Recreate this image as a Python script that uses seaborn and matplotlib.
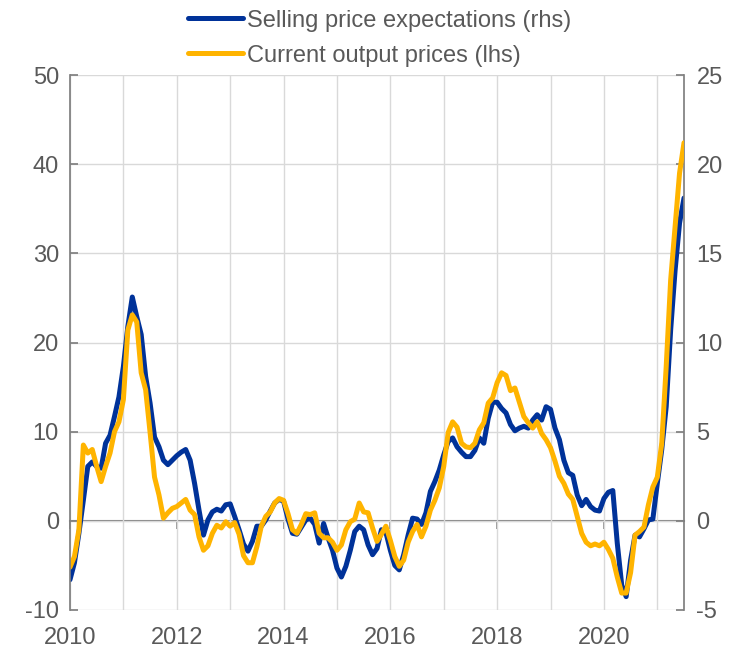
import numpy as np
import pandas as pd
import matplotlib.pyplot as plt
import seaborn as sns

# monthly observations, Jan 2010 - Jul 2021
months = pd.date_range("2010-01-01", "2021-07-01", freq="MS")

# selling price expectations, right hand scale
selling_price_expectations = [
    -3.3, -2.35, -0.7, 1.15, 3.05, 3.3, 3.05, 2.95, 4.35, 4.8,
    5.85, 6.95, 8.65, 10.9, 12.55, 11.45, 10.45, 8.1, 6.6, 4.7,
    4.15, 3.4, 3.15, 3.4, 3.65, 3.85, 4.0, 3.4, 2.1, 0.6,
    -0.8, 0.05, 0.5, 0.65, 0.55, 0.9, 0.95, 0.25, -0.5, -1.3,
    -1.7, -1.15, -0.3, -0.3, 0.05, 0.55, 1.0, 1.2, 1.1, 0.1,
    -0.7, -0.75, -0.35, 0.05, 0.15, -0.2, -1.25, -0.15, -0.95, -1.65,
    -2.65, -3.15, -2.55, -1.65, -0.6, -0.3, -0.5, -1.35, -1.9, -1.55,
    -0.5, -0.65, -1.65, -2.5, -2.75, -1.9, -0.8, 0.15, 0.1, -0.2,
    0.45, 1.65, 2.2, 2.85, 3.7, 4.45, 4.65, 4.15, 3.85, 3.6,
    3.6, 3.95, 4.65, 4.35, 5.75, 6.65, 6.65, 6.3, 6.05, 5.4,
    5.05, 5.2, 5.3, 5.2, 5.65, 5.95, 5.65, 6.4, 6.25, 5.2,
    4.55, 3.4, 2.7, 2.55, 1.45, 0.85, 1.2, 0.8, 0.6, 0.55,
    1.25, 1.6, 1.7, -1.25, -3.6, -4.25, -2.2, -0.8, -0.9, -0.45,
    0.05, 0.1, 2.1, 4.0, 6.4, 10.7, 14.05, 16.7, 18.1,
]

# current output prices, left hand scale
current_output_prices = [
    -5.2, -4.0, -1.0, 8.5, 7.6, 8.0, 6.1, 4.4, 6.1, 7.6,
    10.0, 11.1, 13.6, 21.4, 23.1, 22.3, 16.6, 14.7, 9.9, 4.9,
    2.9, 0.3, 0.9, 1.4, 1.6, 2.0, 2.4, 1.2, 0.7, -1.8,
    -3.3, -2.8, -1.4, -0.5, -0.8, -0.1, -0.6, -0.2, -1.5, -3.9,
    -4.7, -4.7, -2.9, -0.6, 0.5, 1.0, 2.0, 2.5, 2.3, 0.8,
    -1.0, -1.4, -0.4, 0.8, 0.7, 0.9, -1.4, -1.9, -1.9, -2.4,
    -3.3, -2.7, -1.0, -0.1, 0.2, 2.0, 1.0, 0.9, -0.8, -2.3,
    -1.5, -0.6, -2.2, -4.0, -5.1, -4.4, -2.4, -1.2, -0.4, -1.8,
    -0.6, 1.2, 2.3, 3.7, 6.1, 9.9, 11.1, 10.5, 8.7, 8.3,
    8.2, 8.7, 10.2, 11.0, 13.2, 13.8, 15.5, 16.6, 16.3, 14.6,
    14.9, 13.3, 11.7, 11.0, 10.4, 11.1, 9.8, 9.1, 8.2, 6.7,
    5.0, 4.2, 3.0, 2.4, 0.5, -1.4, -2.4, -2.8, -2.6, -2.8,
    -2.4, -3.2, -4.2, -6.3, -8.1, -8.1, -5.8, -1.6, -1.2, -0.7,
    1.8, 3.8, 4.9, 8.7, 17.3, 27.0, 33.0, 39.0, 42.4,
]

year_ticks = list(range(2010, 2022))
year_labels = [str(y) if y % 2 == 0 else "" for y in year_ticks]
axis_ticks = [2010, 2012, 2014, 2016, 2018, 2020]
lhs_ticks = [-10, 0, 10, 20, 30, 40, 50]
rhs_ticks = [-5, 0, 5, 10, 15, 20, 25]

BLUE = "#003299"
YELLOW = "#FFB400"
GREY = "#808080"
TEXT = "#595959"

df = pd.DataFrame({
    "t": months.year + (months.month - 1) / 12,
    "spe": selling_price_expectations,
    "cop": current_output_prices,
})

sns.set_theme(style="white")
plt.rcParams["font.family"] = ["Liberation Sans", "DejaVu Sans"]
plt.rcParams["axes.unicode_minus"] = False

fig = plt.figure(figsize=(7.34, 6.49), dpi=100)
ax = fig.add_axes([70 / 734, 1 - 610 / 649, 614 / 734, 535 / 649])
ax2 = ax.twinx()
# yellow line above the blue one, grid stays underneath both
ax.set_zorder(ax2.get_zorder() + 1)
ax.patch.set_visible(False)

sns.lineplot(data=df, x="t", y="spe", ax=ax2, color=BLUE, lw=3.6,
             label="Selling price expectations (rhs)", legend=False)
sns.lineplot(data=df, x="t", y="cop", ax=ax, color=YELLOW, lw=3.6,
             label="Current output prices (lhs)", legend=False)

ax.set_xlim(df["t"].iloc[0], df["t"].iloc[-1])
ax.set_ylim(-10, 50)
ax2.set_ylim(-5, 25)
ax.set_xticks(year_ticks, year_labels)
ax.set_yticks(lhs_ticks)
ax2.set_yticks(rhs_ticks)
for a in (ax, ax2):
    a.set_xlabel("")
    a.set_ylabel("")

# grid lives on the lower axes (rhs steps of 5 == lhs steps of 10)
ax2.xaxis.set_visible(True)
ax2.grid(True, axis="both", color="#d9d9d9", lw=1)
ax2.tick_params(axis="x", bottom=False, top=False, labelbottom=False, labeltop=False)

# horizontal axis line at zero with ticks
zero = ax2.secondary_xaxis(1 / 6)
zero.set_xticks(axis_ticks)
zero.set_xlabel("")
zero.tick_params(axis="x", direction="out", length=6, width=1.2, color=GREY,
                 labelbottom=False, labeltop=False)
for s in zero.spines.values():
    s.set_color(GREY)
    s.set_linewidth(1.5)

for s in ["top", "bottom", "right"]:
    ax.spines[s].set_visible(False)
for s in ["top", "bottom", "left"]:
    ax2.spines[s].set_visible(False)
ax.spines["left"].set_color(GREY)
ax2.spines["right"].set_color(GREY)

ax.tick_params(axis="x", length=0, pad=12, labelsize=17, labelcolor=TEXT)
ax.tick_params(axis="y", left=True, direction="in", length=6, color=GREY,
               pad=8, labelsize=17, labelcolor=TEXT)
ax2.tick_params(axis="y", right=True, left=False, direction="in", length=6,
                color=GREY, pad=9, labelsize=17, labelcolor=TEXT)

h2, l2 = ax2.get_legend_handles_labels()
h1, l1 = ax.get_legend_handles_labels()
fig.legend(h2 + h1, l2 + l1, loc="upper center", bbox_to_anchor=(380 / 734, 1.018),
           frameon=False, fontsize=17, handlelength=2.3, handletextpad=0.2,
           labelspacing=0.55, labelcolor=TEXT)

fig.savefig("out.png", dpi=100)
